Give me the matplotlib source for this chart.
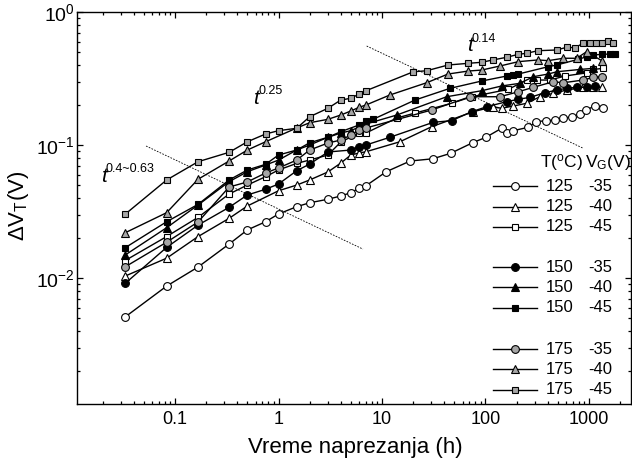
import matplotlib
matplotlib.use('Agg')
import matplotlib.pyplot as plt
from matplotlib.ticker import FixedLocator, FixedFormatter, LogLocator, NullFormatter

plt.rcParams['font.family'] = ['Liberation Sans', 'DejaVu Sans']
plt.rcParams['mathtext.fontset'] = 'custom'
plt.rcParams['mathtext.rm'] = 'Liberation Sans'
plt.rcParams['mathtext.it'] = 'Liberation Sans:italic'

# ---------------- data (time in h, dVT in V) ----------------
t_125_35 = [0.033, 0.083, 0.167, 0.333, 0.5, 0.75, 1, 1.5, 2, 3, 4, 5, 6, 7,
            11, 18.7, 31, 46, 75, 101, 143, 163, 186, 259, 308, 384, 469, 565,
            681, 819, 935, 1142, 1375]
v_125_35 = [0.0051, 0.0087, 0.0121, 0.018, 0.023, 0.0265, 0.0303, 0.0344, 0.0368,
            0.0391, 0.0414, 0.0438, 0.0473, 0.0494,
            0.063, 0.0758, 0.0788, 0.0866, 0.104, 0.1143, 0.1336, 0.1225, 0.1282,
            0.1359, 0.1497, 0.1524, 0.1542, 0.1588, 0.1632, 0.1701, 0.1833, 0.1965, 0.1907]

t_125_40 = [0.033, 0.083, 0.167, 0.333, 0.5, 1, 1.5, 2, 3, 4, 5, 6, 7,
            14.9, 30.2, 76, 119, 143, 186, 250, 336, 452, 609, 881, 1101, 1327]
v_125_40 = [0.01035, 0.0141, 0.0205, 0.0281, 0.0348, 0.0453, 0.05, 0.0546, 0.0627,
            0.0732, 0.0841, 0.0871, 0.089,
            0.1058, 0.1373, 0.178, 0.1941, 0.1888, 0.1965, 0.2059, 0.2307, 0.2447,
            0.259, 0.2716, 0.2744, 0.2716]

t_125_45 = [0.033, 0.083, 0.167, 0.333, 0.5, 0.75, 1, 1.5, 2, 3, 4, 6, 7,
            13.9, 20.9, 47.1, 73.6, 166, 250, 312, 420, 586, 950, 1101, 1375]
v_125_45 = [0.01354, 0.0205, 0.0286, 0.0428, 0.05, 0.0578, 0.0649, 0.0728, 0.0771,
            0.0841, 0.1053, 0.1231, 0.1231,
            0.1596, 0.174, 0.2059, 0.2307, 0.2621, 0.308, 0.308, 0.308, 0.33, 0.349,
            0.37, 0.377]

t_150_35 = [0.033, 0.083, 0.167, 0.333, 0.5, 0.75, 1, 1.5, 2, 3, 5, 6, 7,
            11.9, 31.3, 47.1, 73.6, 103, 160, 208, 269, 376, 488, 609, 761, 950, 1142]
v_150_35 = [0.00912, 0.017, 0.025, 0.034, 0.0421, 0.0465, 0.0509, 0.0641, 0.0719,
            0.0886, 0.0917, 0.0971, 0.1,
            0.1143, 0.1482, 0.1524, 0.178, 0.1941, 0.2117, 0.2207, 0.2283, 0.2472,
            0.259, 0.2667, 0.2716, 0.2716, 0.2778]

t_150_40 = [0.033, 0.083, 0.167, 0.333, 0.5, 0.75, 1, 1.5, 2, 3, 4, 5, 6, 7,
            13.9, 42.2, 91.8, 143, 215, 290, 404, 488, 819, 1101]
v_150_40 = [0.0149, 0.0239, 0.0354, 0.053, 0.063, 0.0707, 0.0771, 0.0917, 0.1,
            0.1143, 0.1231, 0.1282, 0.1366, 0.1438,
            0.1681, 0.2307, 0.2559, 0.2778, 0.291, 0.3263, 0.3418, 0.3554, 0.37, 0.377]

t_150_45 = [0.033, 0.083, 0.167, 0.333, 0.5, 0.75, 1, 1.5, 2, 3, 4, 6, 7, 8.2,
            20.9, 45.4, 91.8, 160, 186, 208, 404, 488, 789, 950, 1101, 1327, 1590, 1780]
v_150_45 = [0.0169, 0.0265, 0.0358, 0.0546, 0.0649, 0.0716, 0.0841, 0.0917, 0.104,
            0.1143, 0.126, 0.1414, 0.1524, 0.156,
            0.218, 0.2667, 0.3027, 0.33, 0.336, 0.3418, 0.388, 0.3995, 0.441, 0.461,
            0.475, 0.4805, 0.483, 0.483]

t_175_35 = [0.033, 0.083, 0.167, 0.333, 0.5, 0.75, 1, 1.5, 2, 3, 4, 5, 6, 7,
            30.2, 70.8, 138, 208, 290, 452, 565, 881, 1101, 1327]
v_175_35 = [0.01214, 0.0186, 0.0264, 0.0483, 0.0528, 0.0616, 0.0672, 0.0771, 0.0917,
            0.1035, 0.109, 0.1189, 0.1297, 0.1343,
            0.1833, 0.2307, 0.2307, 0.2515, 0.2716, 0.299, 0.2939, 0.308, 0.3229, 0.3263]

t_175_40 = [0.033, 0.083, 0.167, 0.333, 0.5, 0.75, 1.5, 2, 3, 4, 5, 6, 7,
            11.9, 27, 43.5, 68.5, 91.8, 138, 208, 321, 404, 565, 761, 950, 1327]
v_175_40 = [0.0219, 0.031, 0.0553, 0.0758, 0.0917, 0.1058, 0.1343, 0.1471, 0.156,
            0.1681, 0.1802, 0.1921, 0.1999,
            0.2376, 0.2939, 0.3418, 0.36, 0.366, 0.3927, 0.4234, 0.436, 0.4308, 0.449,
            0.449, 0.503, 0.4308]

t_175_45 = [0.033, 0.083, 0.167, 0.333, 0.5, 0.75, 1, 1.5, 2, 3, 4, 5, 6, 7,
            20.1, 27, 43.5, 68.5, 91.8, 118, 160, 208, 250, 321, 488, 609, 730, 881,
            1023, 1169, 1327, 1540, 1708]
v_175_45 = [0.0302, 0.0546, 0.0749, 0.0881, 0.1058, 0.121, 0.1282, 0.1336, 0.1632,
            0.1888, 0.218, 0.2245, 0.2417, 0.2559,
            0.3554, 0.3616, 0.3995, 0.4114, 0.4188, 0.436, 0.4565, 0.4808, 0.4892,
            0.5118, 0.518, 0.543, 0.539, 0.582, 0.582, 0.582, 0.588, 0.6086, 0.588]

temps = ['125', '125', '125', '150', '150', '150', '175', '175', '175']
gates = ['-35', '-40', '-45', '-35', '-40', '-45', '-35', '-40', '-45']

# guide lines (power-law regions), data coords
guide1_t = [0.0525, 6.55]
guide1_v = [0.0983, 0.0165]
guide2_t = [7.11, 881]
guide2_v = [0.555, 0.0945]

xticks = [0.1, 1, 10, 100, 1000]
xticklabels = ['0.1', '1', '10', '100', '1000']

# ---------------- styling ----------------
GRAY = '#a6a6a6'
series = [
    (t_125_35, v_125_35, 'o', 'white', 5.6),
    (t_125_40, v_125_40, '^', 'white', 6.4),
    (t_125_45, v_125_45, 's', 'white', 5.0),
    (t_150_35, v_150_35, 'o', 'black', 5.6),
    (t_150_40, v_150_40, '^', 'black', 6.4),
    (t_150_45, v_150_45, 's', 'black', 5.0),
    (t_175_35, v_175_35, 'o', GRAY, 5.6),
    (t_175_40, v_175_40, '^', GRAY, 6.4),
    (t_175_45, v_175_45, 's', GRAY, 5.0),
]

fig = plt.figure(figsize=(6.32, 4.59), dpi=100)
W, H = 632.0, 459.0
ax_l, ax_r, ax_t, ax_b = 76.7, 631.5, 12.0, 404.0
ax = fig.add_axes([ax_l / W, (H - ax_b) / H, (ax_r - ax_l) / W, (ax_b - ax_t) / H])

for t, v, m, fc, ms in series:
    ax.plot(t, v, color='black', lw=1.0, marker=m, ms=ms, mfc=fc, mec='black', mew=0.8,
            zorder=3)

ax.plot(guide1_t, guide1_v, color='black', lw=0.6, ls=(0, (2.0, 1.6)), zorder=2)
ax.plot(guide2_t, guide2_v, color='black', lw=0.6, ls=(0, (2.0, 1.6)), zorder=2)

ax.set_xscale('log')
ax.set_yscale('log')
ax.set_xlim(0.01122, 2576)
ax.set_ylim(0.00113, 1.0)

ax.xaxis.set_major_locator(FixedLocator(xticks))
ax.xaxis.set_major_formatter(FixedFormatter(xticklabels))
ax.xaxis.set_minor_locator(LogLocator(base=10, subs=range(2, 10), numticks=20))
ax.xaxis.set_minor_formatter(NullFormatter())
ax.yaxis.set_major_locator(FixedLocator([0.01, 0.1, 1.0]))
ax.yaxis.set_major_formatter(FixedFormatter([r'$\mathdefault{10^{-2}}$',
                                             r'$\mathdefault{10^{-1}}$',
                                             r'$\mathdefault{10^{0}}$']))
ax.yaxis.set_minor_locator(LogLocator(base=10, subs=range(2, 10), numticks=20))
ax.yaxis.set_minor_formatter(NullFormatter())

ax.tick_params(which='both', direction='in', top=True, right=True, width=0.9)
ax.tick_params(which='major', length=4.5)
ax.tick_params(which='minor', length=2.5)
ax.tick_params(axis='x', labelsize=13, pad=5)
ax.tick_params(axis='y', labelsize=14, pad=1.5)
for s in ax.spines.values():
    s.set_linewidth(1.0)

ax.set_xlabel('Vreme naprezanja (h)', fontsize=16)
ax.xaxis.set_label_coords(0.5016, -0.085)
ax.set_ylabel('ΔV$_\\mathregular{T}$(V)', fontsize=16)
ax.yaxis.set_label_coords(-0.083, 0.505)

# power-law annotations
tr = ax.transAxes
ax.text(0.0433, 0.567, 't', style='italic', fontsize=15, transform=tr, va='baseline')
ax.text(0.0528, 0.591, '0.4~0.63', fontsize=9, transform=tr, va='baseline')
ax.text(0.3182, 0.765, 't', style='italic', fontsize=15, transform=tr, va='baseline')
ax.text(0.327, 0.790, '0.25', fontsize=9, transform=tr, va='baseline')
ax.text(0.703, 0.900, 't', style='italic', fontsize=15, transform=tr, va='baseline')
ax.text(0.712, 0.924, '0.14', fontsize=9, transform=tr, va='baseline')

# legend (manual table)
ax.text(0.835, 0.617, 'T($^\\mathregular{o}$C)', fontsize=12.5, transform=tr, va='center')
ax.text(0.917, 0.617, 'V$_\\mathregular{G}$(V)', fontsize=12.5, transform=tr, va='center')
rows_y = [0.556, 0.503, 0.452, 0.349, 0.298, 0.246, 0.140, 0.089, 0.036]
for (t, v, m, fc, ms), yy, tt, gg in zip(series, rows_y, temps, gates):
    ax.plot([0.750, 0.830], [yy, yy], color='black', lw=1.0, transform=tr, clip_on=False)
    ax.plot([0.790], [yy], marker=m, ms=ms, mfc=fc, mec='black', mew=0.8,
            transform=tr, clip_on=False, color='black')
    ax.text(0.846, yy, tt, fontsize=12, transform=tr, va='center')
    ax.text(0.922, yy, gg, fontsize=12, transform=tr, va='center')

fig.savefig('out.png', dpi=100)
